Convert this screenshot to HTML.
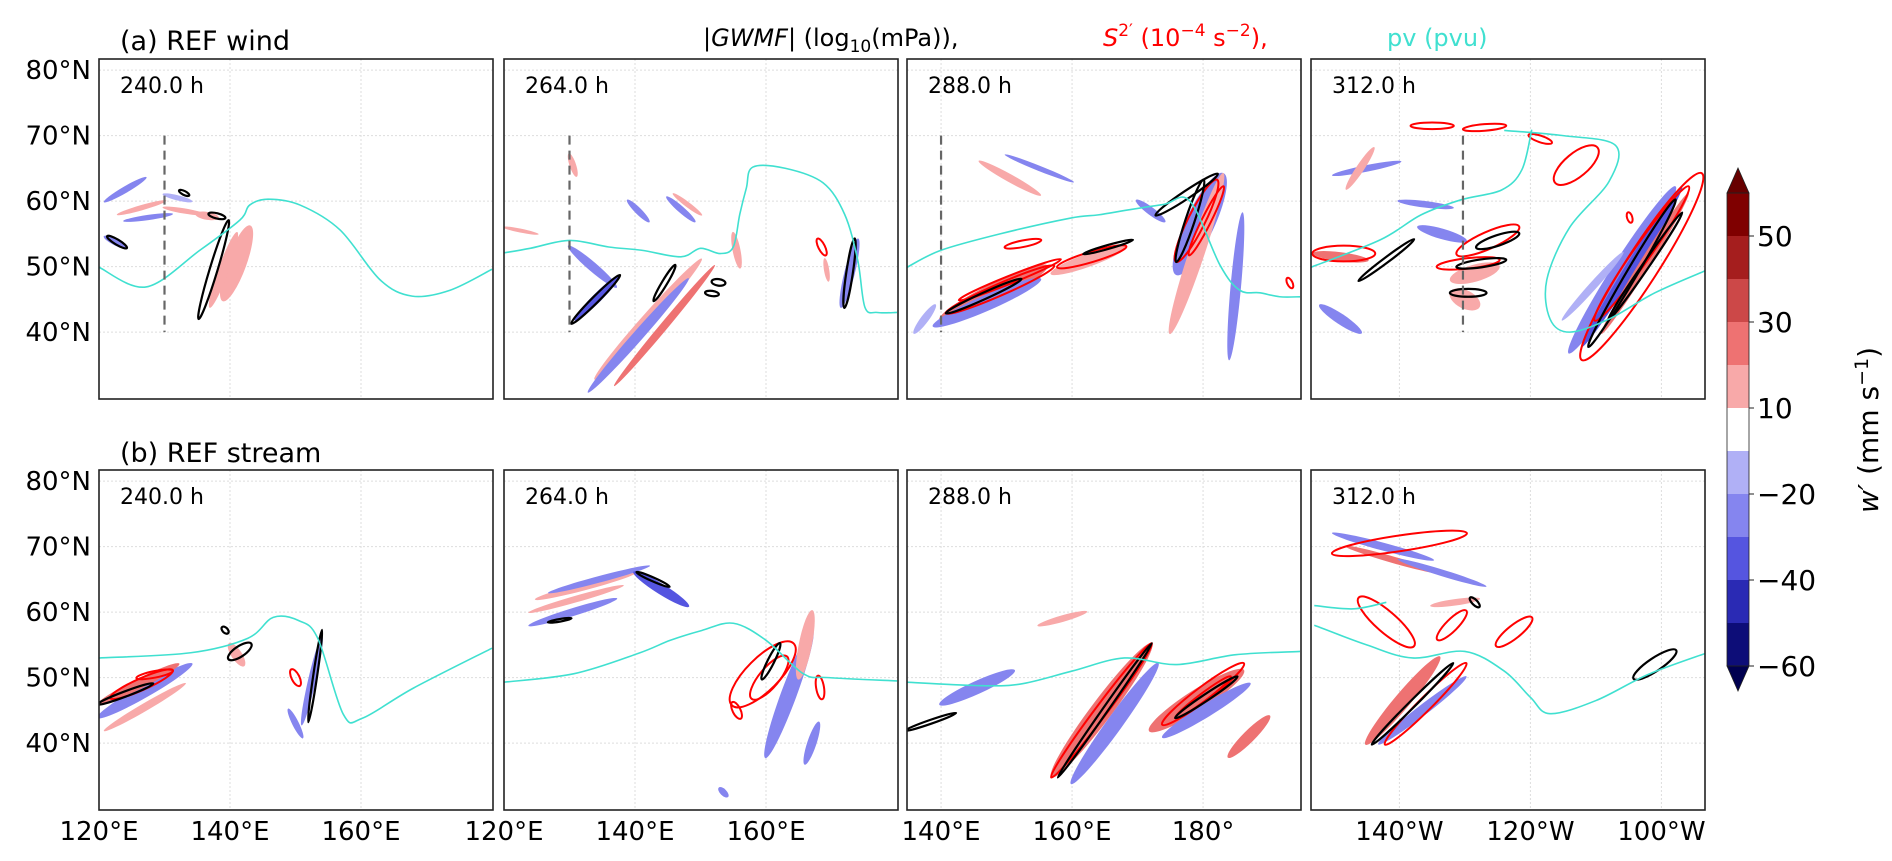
<!DOCTYPE html>
<html><head><meta charset="utf-8"><style>
html,body{margin:0;padding:0;background:#fff}
svg{display:block;font-family:"DejaVu Sans","Liberation Sans",sans-serif}
</style></head><body>
<svg id="fig" width="1892" height="861" viewBox="0 0 1892 861" xmlns="http://www.w3.org/2000/svg">
<text x="120" y="50" font-size="27">(a) REF wind</text>
<text x="120" y="462" font-size="27">(b) REF stream</text>
<text x="703" y="46" font-size="24">|<tspan font-style="italic">GWMF</tspan>| (log<tspan font-size="17" dy="6">10</tspan><tspan dy="-6">(mPa)),</tspan></text>
<text x="1103" y="46" font-size="24" fill="#ff0000"><tspan font-style="italic">S</tspan><tspan font-size="17" dy="-10">2′</tspan><tspan dy="10"> (10</tspan><tspan font-size="17" dy="-10">−4</tspan><tspan dy="10"> s</tspan><tspan font-size="17" dy="-10">−2</tspan><tspan dy="10">),</tspan></text>
<text x="1387" y="46" font-size="24" fill="#40e0d0">pv (pvu)</text>
<g id="panels"></g>
<g id="cbar"></g>
<text transform="translate(1878,430) rotate(-90)" text-anchor="middle" font-size="28"><tspan font-style="italic">w′</tspan> (mm s<tspan font-size="19" dy="-10">−1</tspan><tspan dy="10">)</tspan></text>
</svg>
<script>
// ---- data ----
const panelTimes = ["240.0 h","264.0 h","288.0 h","312.0 h"];
const panelLon0 = [120,120,134.8,206.5];
const latTicks = [80,70,60,50,40];
const lonTickVals = [[120,140,160],[120,140,160],[140,160,180],[220,240,260]];
const lonTickText = [["120°E","140°E","160°E"],["120°E","140°E","160°E"],["140°E","160°E","180°"],["140°W","120°W","100°W"]];
const dashLon = [130,130,140,229.7];
const cbLevels = [60,50,40,30,20,10,-10,-20,-30,-40,-50,-60];
const cbColors = ["#7f0000","#a51e1e","#cc4848","#ee7272","#f8a9a9","#ffffff","#b0b0f6","#8585ef","#5555e0","#2a2ab4","#0d0d78"];
const cbTickVals = [50,30,10,-20,-40,-60];

// pv lines [lon,lat]
const pvA = [
 [[[120,49.9],[127.2,46.9],[135.4,52.5],[141.5,57.1],[143,59.4],[145.8,60.3],[150.7,59.4],[156.8,55.6],[162.9,48],[167.8,45.5],[173.6,46.4],[180,49.6]]],
 [[[120,52.1],[124,52.8],[130,54],[136,53],[141,52.5],[147,51.5],[150,52.8],[153,52],[155,53],[156,58],[157,62],[158,65.2],[163,65],[168.7,62.8],[172,58],[174,51],[175.1,43.8],[177,43],[180,43]]],
 [[[134.8,49.9],[140,52.5],[149,55],[159.7,57.4],[164,57.9],[168.8,58.7],[174,59.5],[178,60],[182.6,50.2],[185.6,46.4],[188.7,46],[191.7,45.4],[194.8,45.4]]],
 [[[206.5,49.9],[217.1,54.1],[223.3,57.9],[229.4,60.2],[235.6,61.7],[238.7,64.8],[240.2,70.9]],
  [[236,70.8],[245,70],[253,68.5],[252,63],[246,56],[242.5,48],[243,42],[246,40],[252,42],[259,46],[267,49.5]]]
];
const pvB = [
 [[[120,53],[134,53.8],[142.7,56],[146.6,59.2],[150.5,58.7],[153.4,56],[157.3,44.4],[160.2,43.8],[168,48.4],[180,54.5]]],
 [[[120,49.3],[130.7,50.6],[140.5,53.7],[145.4,55.7],[150.2,57.2],[155,58.3],[160,55.7],[165.7,50.6],[169.6,50],[180,49.5]]],
 [[[134.8,49.3],[145,48.8],[152,49],[160,51],[168,53],[176,52],[185,53.5],[194.8,54]]],
 [[[207,58],[215,55],[222,53],[230,54],[236,51],[240,47],[243,44.5],[250,46.5],[258,50.5],[267,53.8]],[[207,61],[213,60.5],[218,61.5]]]
];
// shaded w' streaks: [lon1,lat1,lon2,lat2,halfWidthDeg,value]
const fillA = [
 [[121,60,127,63.5,0.5,-25],[123,58,130,60,0.4,15],[124,57,131,58,0.4,-25],[130,61,134,60,0.4,-15],[130,59,136,58,0.4,15],[121,54.5,124,53,0.5,-25],[139,45,143,56,1.5,15],[137,44,141,55,0.8,15],[135,58,138,57.5,0.6,15]],
 [[130,53,137,47,0.7,-25],[131,42,137.5,48.5,0.7,-35],[134,33,150,51,0.9,15],[133,31,148,48,0.8,-25],[137,32,152,50,0.6,25],[139,60,142,57,0.5,-25],[145,60.5,149,57,0.5,-25],[146,61,150,58,0.4,15],[130,67,131,64,0.5,15],[120,56,125,55,0.3,15],[155,55,156,50,0.6,15],[171.5,44,174,54,0.8,-25],[169,51,169.5,48,0.4,15]],
 [[140,42,156,50,1.4,25],[139,41,155,48,1.2,-25],[157,49,168,53,1,15],[176,49,183,64,2.2,-25],[175,40,183,64,1.2,15],[184,36,186,58,0.8,-25],[146,66,155,61,0.6,15],[150,67,160,63,0.4,-25],[136,40,139,44,0.6,-20],[170,60,174,57,0.6,-25]],
 [[246,37,262,62,1.5,-25],[248,38,263,62,0.9,-35],[251,40,264,61,0.8,25],[245,42,254,52,0.6,-20],[228,48,235,50,1.3,15],[228,46,232,44,1.4,15],[210,64,220,66,0.5,-25],[212,62,216,68,0.6,15],[220,60,228,59,0.5,-25],[223,56,230,54,0.8,-25],[207,52,215,51,0.7,25],[208,44,214,40,0.8,-25]]
];
const fillB = [
 [[120,44,134,52,1,-25],[120,46,132,52,0.8,25],[121,42,133,49,0.6,15],[151,43,154,56,0.6,-25],[149,45,151,41,0.5,-25],[140,55,142,52,0.8,15]],
 [[125,62,140,66,0.6,15],[127,63,142,67,0.5,-25],[124,58,137,62,0.6,-25],[124,60,138,64,0.5,15],[140,66,148,61,0.8,-35],[160,38,167,57,1.2,-25],[165,50,167,60,1,15],[166,37,168,43,0.7,-25],[153,33,154,32,0.5,-25]],
 [[157,35,172,55,1.6,25],[160,34,173,52,1.2,-25],[172,42,186,51,1.6,25],[174,41,187,49,1,-25],[140,46,151,51,1,-25],[155,58,162,60,0.5,15],[184,38,190,44,0.9,25]],
 [[210,72,225,68,0.6,-25],[212,70,226,66,0.5,25],[220,68,233,64,0.5,-25],[215,40,226,53,1.2,25],[217,40,230,50,0.8,-25],[225,61,232,62,0.5,15]]
];
// red S2 contours [lon1,lat1,lon2,lat2,halfWidthDeg]
const redA = [
 [],
 [[168,54,169,52,0.5]],
 [[141,43,157,50,0.9],[143,45,158,51,0.6],[158,50,168,53,0.8],[176,51,182,63,1.3],[178,52,183,62,0.7],[150,53,155,54,0.5],[193,48,193.5,47,0.4]],
 [[222,71.5,228,71.5,0.5],[230,71,236,71.5,0.5],[240,70,243,69,0.5],[244,63,250,68,1.8],[248,36,266,64,2.5],[250,42,264,62,1.3],[207,52,216,52,1.2],[229,52,238,56,1.3],[226,50,235,51,0.8],[255,58,255.3,57,0.4]]
];
const redB = [
 [[122,47,131,51,0.9],[126,50,131,51,0.5],[149.5,51,150.5,49,0.6]],
 [[155,46,164,55,2.5],[158,47,163,53,1.5],[168,50,168.5,47,0.6],[155,46,156,44,0.6]],
 [[157,35,172,55,0.9],[174,43,186,52,1.1],[176,44,184,50,0.6]],
 [[210,69,230,72,1.2],[214,62,222,55,1.6],[235,55,240,59,1],[218,40,230,52,1],[226,56,230,60,0.9]]
];
const blackA = [
 [[135.3,42.3,139.7,56.8,0.6],[121.5,54.5,124,53,0.4],[137,58,139,57.5,0.4],[132.5,61.5,133.5,61,0.3]],
 [[130.5,41.5,137.5,48.5,0.5],[143,45,146,50,0.4],[152,47.7,153.5,47.5,0.5],[151,46,152.5,45.8,0.4],[172,44,173.5,54,0.5]],
 [[141,43,152,48,0.5],[173,58,182,64,0.6],[176,51,180,63,0.7],[162,52,169,54,0.3]],
 [[249,38,262,60,0.8],[252,42,263,58,0.5],[232,53,238,55,0.8],[229,50,236,51,0.6],[228,46,233,46,0.6],[214,48,222,54,0.4]]
];
const blackB = [
 [[120,46,128,49,0.4],[152,43.5,154,57,0.3],[140,53,143,55,0.8],[139,57.5,139.5,57,0.4]],
 [[140.5,66,145,64,0.3],[159.5,50,162,55,0.5],[127,58.5,130,59,0.2]],
 [[134.8,42,142,44.5,0.3],[158,35,172,55,0.4],[176,44,185,50,0.5]],
 [[216,40,228,52,0.5],[256,50,262,54,1],[231,62,232,61,0.4]]
];

// ---- layout ----
const NS="http://www.w3.org/2000/svg";
const colLeft=[99,504,907,1311], colW=394, rowTop=[59,470], rowH=340;
function xOf(c,lon){return colLeft[c]+(lon-panelLon0[c])/20*131;}
function yOf(r,lat){return rowTop[r]+(81.7-lat)*6.55;}
function mk(tag,attrs,parent){const e=document.createElementNS(NS,tag);for(const k in attrs)e.setAttribute(k,attrs[k]);parent.appendChild(e);return e;}
function colorOf(v){
 for(let i=0;i<cbLevels.length-1;i++){if(v<=cbLevels[i]&&v>=cbLevels[i+1])return cbColors[i];}
 return v>0?cbColors[0]:cbColors[cbColors.length-1];
}
function smoothPath(pts){
 let d='M'+pts[0][0]+','+pts[0][1];
 for(let i=0;i<pts.length-1;i++){
  const p0=pts[Math.max(0,i-1)],p1=pts[i],p2=pts[i+1],p3=pts[Math.min(pts.length-1,i+2)];
  const c1=[p1[0]+(p2[0]-p0[0])/6,p1[1]+(p2[1]-p0[1])/6],c2=[p2[0]-(p3[0]-p1[0])/6,p2[1]-(p3[1]-p1[1])/6];
  d+=` C${c1[0]},${c1[1]} ${c2[0]},${c2[1]} ${p2[0]},${p2[1]}`;
 }
 return d;
}
const root=document.getElementById('panels');
function streak(g,r,c,s,style){
 const x1=xOf(c,s[0]),y1=yOf(r,s[1]),x2=xOf(c,s[2]),y2=yOf(r,s[3]);
 const len=Math.hypot(x2-x1,y2-y1)/2+2, ang=Math.atan2(y2-y1,x2-x1)*180/Math.PI;
 return mk('ellipse',Object.assign({cx:(x1+x2)/2,cy:(y1+y2)/2,rx:len,ry:Math.max(1,s[4]*6.55),transform:`rotate(${ang} ${(x1+x2)/2} ${(y1+y2)/2})`},style),g);
}
const rowNames=['a','b'];
for(let r=0;r<2;r++){for(let c=0;c<4;c++){
 const g=mk('g',{},root);
 
 
 const L=colLeft[c],T=rowTop[r];
 const cp=mk('clipPath',{id:'cp'+r+c},g);
 mk('rect',{x:L,y:T,width:colW,height:rowH},cp);
 const inner=mk('g',{'clip-path':`url(#cp${r}${c})`},g);
 latTicks.forEach(lat=>{const l=mk('line',{x1:L,x2:L+colW,y1:yOf(r,lat),y2:yOf(r,lat),stroke:'#ddd','stroke-width':1,'stroke-dasharray':'2,2'},inner);
  });
 lonTickVals[c].forEach(lon=>{const l=mk('line',{x1:xOf(c,lon),x2:xOf(c,lon),y1:T,y2:T+rowH,stroke:'#ddd','stroke-width':1,'stroke-dasharray':'2,2'},inner);
  });
 const F=r?fillB:fillA, R=r?redB:redA, K=r?blackB:blackA, P=r?pvB:pvA;
 F[c].forEach(s=>{const e=streak(inner,r,c,s,{fill:colorOf(s[5])});});
 R[c].forEach(s=>{const e=streak(inner,r,c,s,{fill:'none',stroke:'#ff0000','stroke-width':2});});
 K[c].forEach(s=>{const e=streak(inner,r,c,s,{fill:'none',stroke:'#000','stroke-width':2.2});});
 P[c].forEach(line=>{const p=mk('path',{d:smoothPath(line.map(q=>[xOf(c,q[0]),yOf(r,q[1])])),fill:'none',stroke:'#40e0d0','stroke-width':1.6},inner);
  });
 if(r===0){const d=mk('line',{x1:xOf(c,dashLon[c]),x2:xOf(c,dashLon[c]),y1:yOf(0,70),y2:yOf(0,40),stroke:'#666','stroke-width':2.2,'stroke-dasharray':'9,6'},inner);
  }
 const fr=mk('rect',{x:L,y:T,width:colW,height:rowH,fill:'none',stroke:'#222','stroke-width':1.6},g);
 
 const tl=mk('text',{x:L+21,y:T+34,'font-size':22},g);tl.textContent=panelTimes[c];
 
 if(c===0){latTicks.forEach(lat=>{const t=mk('text',{x:91,y:yOf(r,lat)+9,'font-size':26,'text-anchor':'end'},g);t.textContent=lat+'°N';
  });}
 if(r===1){lonTickVals[c].forEach((lon,i)=>{const t=mk('text',{x:xOf(c,lon),y:840,'font-size':26,'text-anchor':'middle'},g);t.textContent=lonTickText[c][i];
  });}
}}
// colorbar
const cb=document.getElementById('cbar');const cbX=1727,cbW=22,cbTop=193,bandH=43;
function cbY(v){return cbTop+cbLevels.indexOf(v)*bandH;}
for(let i=0;i<cbColors.length;i++){const b=mk('rect',{x:cbX,y:cbTop+i*bandH,width:cbW,height:bandH+0.5,fill:cbColors[i]},cb);
 }
const bot=cbTop+cbColors.length*bandH;
const tt=mk('polygon',{points:`${cbX},${cbTop} ${cbX+cbW},${cbTop} ${cbX+cbW/2},168`,fill:'#670000',stroke:'#222','stroke-width':0.8},cb);

const bt=mk('polygon',{points:`${cbX},${bot} ${cbX+cbW},${bot} ${cbX+cbW/2},${bot+25}`,fill:'#000050',stroke:'#222','stroke-width':0.8},cb);

mk('rect',{x:cbX,y:cbTop,width:cbW,height:bot-cbTop,fill:'none',stroke:'#222','stroke-width':0.8},cb);
cbTickVals.forEach(v=>{const y=cbY(v);mk('line',{x1:cbX+cbW,x2:cbX+cbW+5,y1:y,y2:y,stroke:'#222','stroke-width':1},cb);
 const t=mk('text',{x:cbX+cbW+8,y:y+10,'font-size':28},cb);t.textContent=v<0?'−'+(-v):String(v);
 });
</script>
</body></html>
